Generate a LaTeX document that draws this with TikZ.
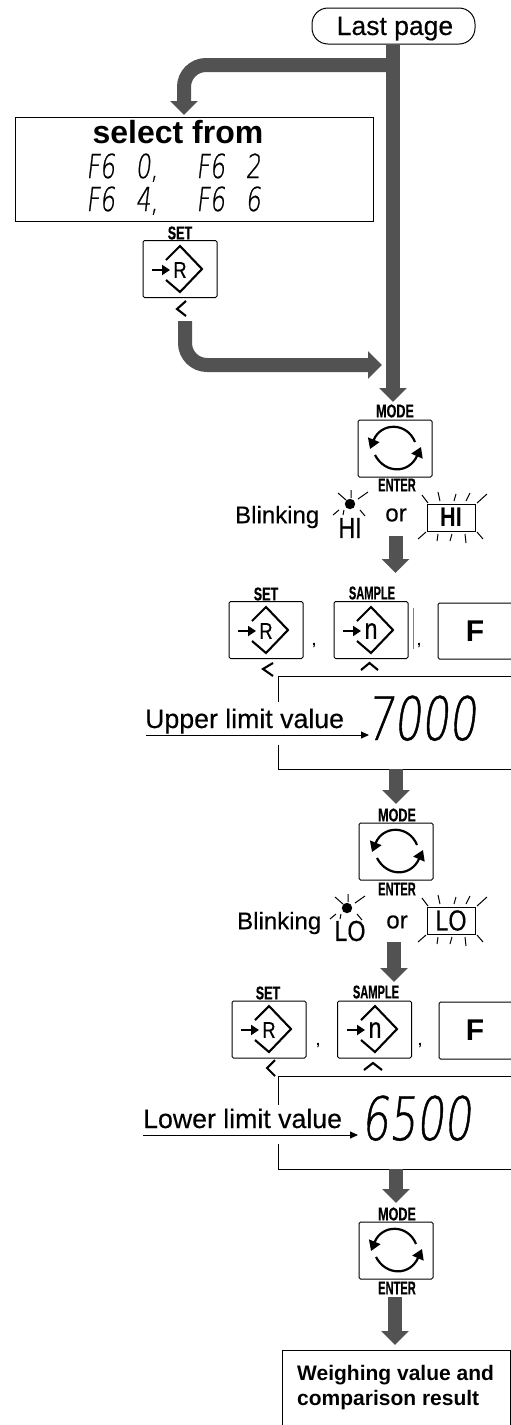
\documentclass[tikz,border=0pt]{standalone}
\usepackage{fontspec}
\usetikzlibrary{arrows.meta}
\setmainfont[UprightFeatures={FakeBold=0.35}]{Liberation Sans}
\newfontfamily\condfont[FakeStretch=0.68,BoldFeatures={FakeBold=0.4}]{Liberation Sans}
\newfontfamily\tightfont[FakeStretch=0.6,BoldFeatures={FakeBold=0.4}]{Liberation Sans}
\newfontfamily\narrowfont[FakeStretch=0.8,UprightFeatures={FakeBold=0.4}]{Liberation Sans}
\newfontfamily\segfont[FakeSlant=0.12,FakeStretch=0.72,FakeBold=0.7]{DejaVu Sans ExtraLight}
\newcommand{\fs}[1]{\fontsize{#1}{#1}\selectfont}
\definecolor{fatgray}{gray}{0.32}
\tikzset{
  fatarrow/.style={draw=fatgray,line width=14pt,line cap=butt,-{Triangle[length=14pt,width=27pt,fill=fatgray]}},
  btn/.style={draw=black,line width=1pt,rounded corners=1.5pt,minimum width=74pt,minimum height=57pt,inner sep=0pt},
  lbl/.style={inner sep=0pt,font=\condfont\bfseries\fs{18.5}},
  lblt/.style={inner sep=0pt,font=\tightfont\bfseries\fs{18.5}},
  ink/.style={draw=black,line width=1pt},
  ray/.style={draw=black,line width=1pt},
  sym/.style={draw=black,line width=2.1pt},
  blink/.style={inner sep=0pt,font=\fs{24},anchor=west},
  seg/.style={inner sep=0pt,anchor=base west,font=\segfont\fs{33}},
  bigseg/.style={inner sep=0pt,anchor=base west,font=\segfont\fs{60}},
  comma/.style={inner sep=0pt,font=\bfseries\fs{14}}
}
\newcommand{\dicon}[2]{% diamond with entry arrow, centred at #1
  \begin{scope}[shift={(#1)}]
    \draw[sym,line join=miter] (-14,-9) -- (0,-23) -- (22,0) -- (0,23) -- (-14,11);
    \draw[line width=2.2pt,-{Triangle[length=8pt,width=10pt]}] (-28,1) -- (-10,1);
    \node[inner sep=0pt,font=\narrowfont\fs{#2}] (dl) at (0,1) {\ifnum#2=23 R\else n\fi};
  \end{scope}}
\newcommand{\cicon}[1]{%
  \begin{scope}[shift={(#1)}]
    \draw[line width=2.2pt,-{Triangle[length=10pt,width=12pt]}] (20,-6) .. controls (12,-26) and (-14,-26) .. (-25,1);
    \draw[line width=2.2pt,-{Triangle[length=10pt,width=12pt]}] (-20,7) .. controls (-10,26) and (14,26) .. (26,-1);
  \end{scope}}
\newcommand{\boxrays}[1]{% rays round a lit box, origin at box top-left
  \begin{scope}[shift={(#1)}]
    \draw[ray] (-5,-9) -- (1,-1) (11,-12) -- (13,-3) (29,-10) -- (27,-3) (43,-11) -- (39,-3) (60,-10) -- (50,-1);
    \draw[ray] (-9,35) -- (-1,28) (11,30) -- (10,37) (25,30) -- (23,37) (38,30) -- (39,39) (50,28) -- (56,35);
  \end{scope}}
\newcommand{\dotrays}[1]{% lamp with rays, origin at the dot
  \begin{scope}[shift={(#1)}]
    \fill (0,0) circle (5.2pt);
    \draw[ray] (-12,-11) -- (-4,-4) (1,-14) -- (1,-6) (8,-5) -- (18,-12);
    \draw[ray] (-17,11) -- (-11,6) (-6,6) -- (-7,11) (10,6) -- (15,12);
  \end{scope}}
\begin{document}
\begin{tikzpicture}[x=1pt,y=-1pt]
\useasboundingbox (0,0) rectangle (511,1425);
% top
\node[draw=black,line width=1pt,rounded corners=16pt,minimum width=163pt,minimum height=36pt,inner sep=0pt] (last) at (393.5,26) {};
\node[inner sep=0pt,anchor=base,font=\fs{26.5}] (lastt) at (395,35) {Last page};
\node[ink,draw,minimum width=358pt,minimum height=104pt,inner sep=0pt] (sel) at (194,169) {};
\node[inner sep=0pt,font=\bfseries\fs{32},anchor=base] (selt) at (178,143) {select from};
\node[seg] (s1) at (86,178) {F6\hspace{13pt} 0,};
\node[seg] (s2) at (196,178) {F6\hspace{13pt} 2};
\node[seg] (s3) at (86,211) {F6\hspace{13pt} 4,};
\node[seg] (s4) at (196,211) {F6\hspace{13pt} 6};
\node[btn] (b1) at (180,269) {};
\node[lbl] (b1l) at (180,233) {SET};
\dicon{180,269}{23}
\draw[sym] (186,301) -- (177,309) -- (186,316);
% connectors top
\coordinate (j1) at (393,65);
\coordinate (t1) at (184,115);
\coordinate (c1) at (184,65);
\coordinate (t2) at (393,402);
\coordinate (s5) at (185,321);
\coordinate (c2) at (185,365);
\coordinate (t3) at (382,365);
\draw[fatarrow,rounded corners=22pt] (j1) -- (c1) -- (t1);
\draw[fatarrow] (last.south -| j1) -- (t2);
\draw[fatarrow,rounded corners=22pt] (s5) -- (c2) -- (t3);
% mode 1
\node[btn] (m1) at (395,448.5) {};
\node[lbl] (m1a) at (395,411) {MODE};
\node[lblt] (m1b) at (397,485) {ENTER};
\cicon{395,448}
\node[blink] (bk1) at (235,517) {Blinking};
\node[inner sep=0pt,font=\fs{24}] (or1) at (396,515) {or};
\dotrays{350,504}
\node[inner sep=0pt,font=\narrowfont\fs{29}] (hi1) at (350,528) {HI};
\node[ink,draw,minimum width=48pt,minimum height=27pt,inner sep=0pt,font=\narrowfont\bfseries\fs{27}] (hi2) at (451,517.5) {HI};
\boxrays{427,504}
\coordinate (a1) at (395.5,536);
\coordinate (a1t) at (395.5,573);
\draw[fatarrow] (a1) -- (a1t);
% row 1
\node[btn] (r1) at (266,630) {};
\node[lbl] (r1l) at (266,594) {SET};
\dicon{266,630}{23}
\node[comma] (c11) at (314,646) {,};
\node[btn] (n1) at (371,630) {};
\node[lblt] (n1l) at (372,593) {SAMPLE};
\dicon{371,630}{29}
\draw[gray,line width=.8pt] (413,608) -- (413,649);
\node[comma] (c12) at (419,646) {,};
\draw[ink,rounded corners=1.5pt] (512,603) -- (438,603) -- (438,659) -- (512,659);
\node[inner sep=0pt,font=\bfseries\fs{30}] (f1) at (475,631) {F};
\draw[sym] (273,663) -- (263,669) -- (273,676);
\draw[sym] (361,670) -- (369.5,663) -- (378,670);
\draw[ink] (512,676) -- (278,676) -- (278,702);
\draw[ink] (278,745) -- (278,769) -- (512,769);
\node[inner sep=0pt,anchor=base west,font=\fs{26.7}] (ul) at (145,728) {Upper limit value};
\node[bigseg] (v1) at (366,740) {7000};
\coordinate (ula) at (146,735);
\coordinate (ulb) at (369,735);
\draw[line width=1pt,-{Triangle[length=8pt,width=7pt]}] (ula) -- (ulb);
\coordinate (a2) at (396,769);
\coordinate (a2t) at (396,804);
\draw[fatarrow] (a2) -- (a2t);
% mode 2
\node[btn] (m2) at (396,851.5) {};
\node[lbl] (m2a) at (397,815) {MODE};
\node[lblt] (m2b) at (397,889) {ENTER};
\cicon{397,851}
\node[blink] (bk2) at (237,923) {Blinking};
\node[inner sep=0pt,font=\fs{24}] (or2) at (397,922) {or};
\dotrays{347,908}
\node[inner sep=0pt,font=\narrowfont\fs{29}] (lo1) at (350,931) {LO};
\node[ink,draw,minimum width=48pt,minimum height=27pt,inner sep=0pt,font=\narrowfont\fs{29}] (lo2) at (451,920.5) {LO};
\boxrays{427,907}
\coordinate (a3) at (394,942);
\coordinate (a3t) at (394,982);
\draw[fatarrow] (a3) -- (a3t);
% row 2
\node[btn] (r2) at (269,1029.5) {};
\node[lbl] (r2l) at (268,993) {SET};
\dicon{269,1029}{23}
\node[comma] (c21) at (318,1046) {,};
\node[btn] (n2) at (374.5,1029.5) {};
\node[lblt] (n2l) at (376,992) {SAMPLE};
\dicon{375,1029}{29}
\node[comma] (c22) at (420,1046) {,};
\draw[ink,rounded corners=1.5pt] (512,1002) -- (439,1002) -- (439,1059) -- (512,1059);
\node[inner sep=0pt,font=\bfseries\fs{30}] (f2) at (475,1030) {F};
\draw[sym] (275,1060) -- (267,1068) -- (275,1076);
\draw[sym] (364,1070) -- (373,1063) -- (382,1070);
\draw[ink] (512,1076) -- (278,1076) -- (278,1105);
\draw[ink] (278,1144) -- (278,1169) -- (512,1169);
\node[inner sep=0pt,anchor=base west,font=\fs{26.7}] (ll) at (143,1128) {Lower limit value};
\node[bigseg] (v2) at (361,1140) {6500};
\coordinate (lla) at (143,1135);
\coordinate (llb) at (358,1135);
\draw[line width=1pt,-{Triangle[length=8pt,width=7pt]}] (lla) -- (llb);
\coordinate (a4) at (396,1169);
\coordinate (a4t) at (396,1203);
\draw[fatarrow] (a4) -- (a4t);
% mode 3
\node[btn] (m3) at (396,1250.5) {};
\node[lbl] (m3a) at (397,1214) {MODE};
\node[lblt] (m3b) at (397,1288) {ENTER};
\cicon{396,1250}
\coordinate (a5) at (395,1297);
\coordinate (a5t) at (395,1345);
\draw[fatarrow] (a5) -- (a5t);
% result
\coordinate (ra) at (282,1426);
\coordinate (rb) at (282,1350);
\coordinate (rc) at (510,1350);
\coordinate (rd) at (510,1426);
\draw[ink] (ra) -- (rb) -- (rc) -- (rd);
\node[inner sep=0pt,anchor=base west,font=\bfseries\fs{21}] (w1) at (297,1380) {Weighing value and};
\node[inner sep=0pt,anchor=base west,font=\bfseries\fs{21}] (w2) at (297,1405) {comparison result};
\end{tikzpicture}
\end{document}
